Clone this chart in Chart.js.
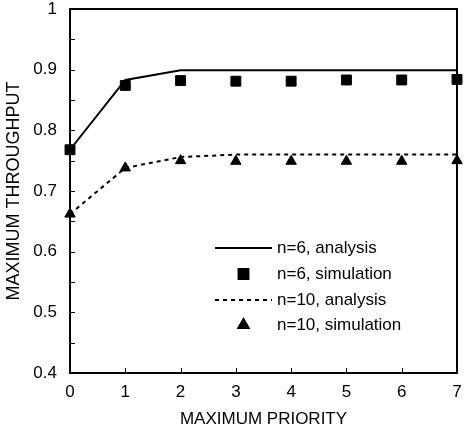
<!DOCTYPE html>
<html>
<head>
<meta charset="utf-8">
<script src="https://cdn.jsdelivr.net/npm/chart.js@4/dist/chart.umd.min.js"></script>
<style>
  html, body { margin: 0; padding: 0; background: #fff; }
  #wrap { width: 465px; height: 440px; }
</style>
</head>
<body>
<div id="wrap"><canvas id="thrChart" width="465" height="440"></canvas></div>
<script>
// maximum priority on the x axis
const priorities = [0, 1, 2, 3, 4, 5, 6, 7];
const yTicks = [0.4, 0.5, 0.6, 0.7, 0.8, 0.9, 1];

const n6Analysis   = [0.768, 0.883, 0.899, 0.899, 0.899, 0.899, 0.899, 0.899];
const n6Simulation = [0.768, 0.874, 0.882, 0.881, 0.881, 0.883, 0.883, 0.884];
const n10Analysis  = [0.662, 0.738, 0.756, 0.760, 0.760, 0.760, 0.760, 0.760];
const n10Simulation= [0.662, 0.738, 0.750, 0.749, 0.749, 0.749, 0.749, 0.750];

const seriesLabels = ['n=6, analysis', 'n=6, simulation', 'n=10, analysis', 'n=10, simulation'];

const FONT = 'Liberation Sans, Arial, sans-serif';
const pts = arr => arr.map((v, i) => ({ x: priorities[i], y: v }));

// frame, inward tick marks and the boxed-in legend
const framePlugin = {
  id: 'frame',
  afterDatasetsDraw(chart) {
    const { ctx, chartArea: a, scales } = chart;
    ctx.save();
    ctx.strokeStyle = '#000';
    ctx.lineWidth = 1;
    // minor/major ticks on y every 0.05
    for (let v = 0.45; v < 1; v += 0.05) {
      const y = Math.round(scales.y.getPixelForValue(v)) + 0.5;
      ctx.beginPath(); ctx.moveTo(a.left, y); ctx.lineTo(a.left + 5, y); ctx.stroke();
    }
    priorities.forEach(p => {
      if (p === 0 || p === 7) return;
      const x = Math.round(scales.x.getPixelForValue(p)) + 0.5;
      ctx.beginPath(); ctx.moveTo(x, a.bottom); ctx.lineTo(x, a.bottom - 5); ctx.stroke();
    });
    ctx.lineWidth = 2;
    ctx.strokeRect(a.left, a.top, a.right - a.left, a.bottom - a.top);

    // legend
    const lx0 = 215, lx1 = 272, tx = 277;
    const rows = [248, 274, 300, 325];
    ctx.font = '17px ' + FONT;
    ctx.textBaseline = 'middle';
    ctx.fillStyle = '#000';
    chart.data.datasets.forEach((ds, i) => {
      const y = rows[i];
      if (ds.showLine) {
        ctx.save();
        ctx.lineWidth = ds.borderWidth;
        ctx.setLineDash(ds.borderDash || []);
        ctx.beginPath(); ctx.moveTo(lx0, y); ctx.lineTo(lx1, y); ctx.stroke();
        ctx.restore();
      } else {
        Chart.helpers.drawPoint(ctx, {
          pointStyle: ds.pointStyle, radius: ds.pointRadius, borderWidth: 1
        }, (lx0 + lx1) / 2, y);
        ctx.fill();
      }
      ctx.fillText(ds.label, tx, y);
    });
    ctx.restore();
  }
};

new Chart(document.getElementById('thrChart'), {
  type: 'scatter',
  data: {
    datasets: [
      { label: seriesLabels[0], data: pts(n6Analysis), showLine: true, borderColor: '#000',
        borderWidth: 2, pointRadius: 0, tension: 0, clip: false },
      { label: seriesLabels[1], data: pts(n6Simulation), showLine: false, pointStyle: 'rect',
        pointRadius: 7, backgroundColor: '#000', borderColor: '#000', clip: false },
      { label: seriesLabels[2], data: pts(n10Analysis), showLine: true, borderColor: '#000',
        borderWidth: 2, borderDash: [4, 4], pointRadius: 0, tension: 0, clip: false },
      { label: seriesLabels[3], data: pts(n10Simulation), showLine: false, pointStyle: 'triangle',
        pointRadius: 6, backgroundColor: '#000', borderColor: '#000', clip: false }
    ]
  },
  options: {
    responsive: false,
    animation: false,
    layout: { padding: { top: 9, right: 6, left: 0, bottom: 0 } },
    plugins: { legend: { display: false }, tooltip: { enabled: false } },
    scales: {
      x: {
        type: 'linear', min: 0, max: 7,
        afterFit: s => { s.height = 67; s.paddingLeft = 0; s.paddingRight = 0; },
        afterBuildTicks: s => { s.ticks = priorities.map(v => ({ value: v })); },
        grid: { display: false, drawTicks: false },
        border: { display: false },
        ticks: { color: '#000', padding: 9, font: { family: FONT, size: 17 } },
        title: { display: true, text: 'MAXIMUM PRIORITY', color: '#000',
                 padding: { top: 0, bottom: 10 }, font: { family: FONT, size: 17 } }
      },
      y: {
        min: 0.4, max: 1,
        afterFit: s => { s.width = 70; s.paddingTop = 0; s.paddingBottom = 0; },
        afterBuildTicks: s => { s.ticks = yTicks.map(v => ({ value: v })); },
        grid: { display: false, drawTicks: false },
        border: { display: false },
        ticks: { color: '#000', padding: 13, font: { family: FONT, size: 17 },
                 callback: v => v === 1 ? '1' : v.toFixed(1) },
        title: { display: true, text: 'MAXIMUM THROUGHPUT', color: '#000',
                 padding: { top: 3, bottom: 0 }, font: { family: FONT, size: 18 } }
      }
    }
  },
  plugins: [framePlugin]
});
</script>
</body>
</html>
